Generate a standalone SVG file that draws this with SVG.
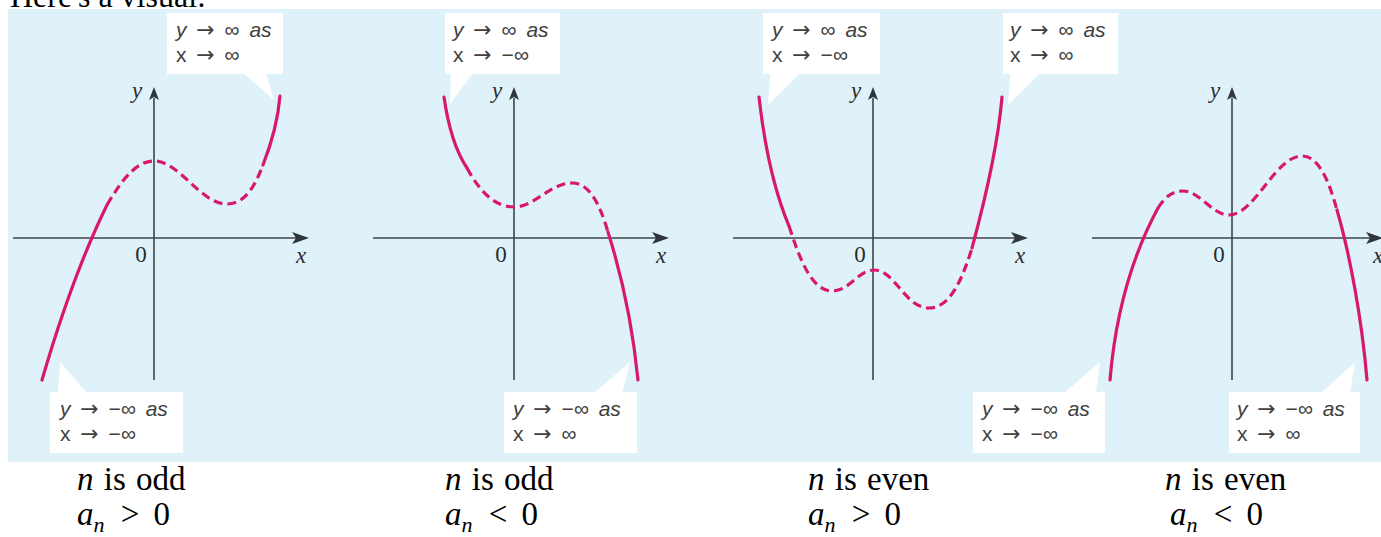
<svg xmlns="http://www.w3.org/2000/svg" width="1381" height="537" viewBox="0 0 1381 537">
<style>
.bg{fill:#dff2fa}
.ax{stroke:#3c4449;stroke-width:1.6;fill:none}
.ah{fill:#2f373c}
.cs{stroke:#d8186f;stroke-width:3.2;fill:none;stroke-linecap:round}
.cd{stroke:#d8186f;stroke-width:3.2;fill:none;stroke-dasharray:9 5}
.box{fill:#ffffff}
.ct{font-family:"Liberation Sans",Arial,sans-serif;font-size:21px;fill:#404040;word-spacing:4px}
.ar{font-family:"DejaVu Sans",sans-serif;font-size:22px}
.i{font-style:italic}
.lab{font-family:"Liberation Serif","Times New Roman",serif;font-size:23px;fill:#2b2b2b}
.cap{font-family:"Liberation Serif","Times New Roman",serif;font-size:33px;fill:#000;word-spacing:2px}
.eq{word-spacing:6px}
.sub{font-size:22px}
</style>
<text x="10" y="7" font-family="Liberation Serif, Times New Roman, serif" font-size="32" fill="#000">Here's a visual:</text>
<rect class="bg" x="8" y="9" width="1373" height="453"/>

<g id="axes">
<line class="ax" x1="13" y1="238" x2="296" y2="238"/><path class="ah" d="M309,238 L292,232 L296,238 L292,244 Z"/>
<line class="ax" x1="154" y1="98" x2="154" y2="380"/><path class="ah" d="M154,87 L149,100 L154,97 L159,100 Z"/>
<line class="ax" x1="373" y1="238" x2="656" y2="238"/><path class="ah" d="M669,238 L652,232 L656,238 L652,244 Z"/>
<line class="ax" x1="514" y1="98" x2="514" y2="380"/><path class="ah" d="M514,87 L509,100 L514,97 L519,100 Z"/>
<line class="ax" x1="733" y1="238" x2="1015" y2="238"/><path class="ah" d="M1028,238 L1011,232 L1015,238 L1011,244 Z"/>
<line class="ax" x1="873" y1="98" x2="873" y2="380"/><path class="ah" d="M873,87 L868,100 L873,97 L878,100 Z"/>
<line class="ax" x1="1092" y1="238" x2="1370" y2="238"/><path class="ah" d="M1383,238 L1366,232 L1370,238 L1366,244 Z"/>
<line class="ax" x1="1232" y1="98" x2="1232" y2="380"/><path class="ah" d="M1232,87 L1227,100 L1232,97 L1237,100 Z"/>
<text class="lab i" x="132" y="98">y</text><text class="lab" x="141" y="262" text-anchor="middle">0</text><text class="lab i" x="296" y="263">x</text>
<text class="lab i" x="492" y="98">y</text><text class="lab" x="501" y="262" text-anchor="middle">0</text><text class="lab i" x="656" y="263">x</text>
<text class="lab i" x="851" y="98">y</text><text class="lab" x="860" y="262" text-anchor="middle">0</text><text class="lab i" x="1015" y="263">x</text>
<text class="lab i" x="1210" y="98">y</text><text class="lab" x="1219" y="262" text-anchor="middle">0</text><text class="lab i" x="1373" y="263">x</text>
</g>

<g id="curves">
<path class="cs" d="M42,380 C58,325 80,260 107,205"/>
<path class="cd" d="M107,205 C124,176 138,161 154,161 C180,161 200,204 227,204 C245,204 255,186 263,165"/>
<path class="cs" d="M263,165 C272,142 278,120 280,96"/>

<path class="cs" d="M444,97 C448,125 455,150 467,168"/>
<path class="cd" d="M467,168 C480,192 495,207 514,207 C535,207 550,183 572,183 C590,183 600,205 608,232"/>
<path class="cs" d="M608,232 C620,270 632,320 638,380"/>

<path class="cs" d="M759,97 C765,150 776,195 789,226"/>
<path class="cd" d="M789,226 C800,260 812,291 832,291 C850,291 858,270 874,270 C895,270 905,308 929,308 C950,308 962,280 972,248"/>
<path class="cs" d="M972,248 C985,200 998,145 1002,97"/>

<path class="cs" d="M1110,380 C1115,320 1130,260 1158,208"/>
<path class="cd" d="M1158,208 C1165,197 1172,191 1183,191 C1200,191 1212,215 1229,215 C1255,215 1275,156 1302,156 C1320,156 1330,185 1337,210"/>
<path class="cs" d="M1337,210 C1350,255 1362,320 1367,380"/>
</g>

<g id="c1top">
<rect class="box" x="167" y="13" width="116" height="61"/><polygon class="box" points="243,73 266,73 274,100"/>
<text class="ct" x="176" y="37"><tspan class="i">y</tspan> <tspan class="ar">→</tspan> ∞ <tspan class="i">as</tspan></text>
<text class="ct" x="176" y="62">x <tspan class="ar">→</tspan> ∞</text>
</g>
<g id="c1bot">
<rect class="box" x="50" y="392" width="133" height="61"/><polygon class="box" points="58,393 87,393 60,362"/>
<text class="ct" x="60" y="416"><tspan class="i">y</tspan> <tspan class="ar">→</tspan> −∞ <tspan class="i">as</tspan></text>
<text class="ct" x="60" y="441">x <tspan class="ar">→</tspan> −∞</text>
</g>

<g id="c2top">
<rect class="box" x="445" y="13" width="115" height="61"/><polygon class="box" points="451,73 473,73 450,104"/>
<text class="ct" x="453" y="37"><tspan class="i">y</tspan> <tspan class="ar">→</tspan> ∞ <tspan class="i">as</tspan></text>
<text class="ct" x="453" y="62">x <tspan class="ar">→</tspan> −∞</text>
</g>
<g id="c2bot">
<rect class="box" x="504" y="392" width="133" height="61"/><polygon class="box" points="594,393 622,393 630,362"/>
<text class="ct" x="513" y="416"><tspan class="i">y</tspan> <tspan class="ar">→</tspan> −∞ <tspan class="i">as</tspan></text>
<text class="ct" x="513" y="441">x <tspan class="ar">→</tspan> ∞</text>
</g>

<g id="c3topleft">
<rect class="box" x="763" y="13" width="117" height="61"/><polygon class="box" points="770,73 800,73 768,105"/>
<text class="ct" x="772" y="37"><tspan class="i">y</tspan> <tspan class="ar">→</tspan> ∞ <tspan class="i">as</tspan></text>
<text class="ct" x="772" y="62">x <tspan class="ar">→</tspan> −∞</text>
</g>
<g id="c3topright">
<rect class="box" x="1003" y="13" width="115" height="61"/><polygon class="box" points="1010,73 1040,73 1008,105"/>
<text class="ct" x="1010" y="37"><tspan class="i">y</tspan> <tspan class="ar">→</tspan> ∞ <tspan class="i">as</tspan></text>
<text class="ct" x="1010" y="62">x <tspan class="ar">→</tspan> ∞</text>
</g>
<g id="c3bot">
<rect class="box" x="973" y="392" width="132" height="61"/><polygon class="box" points="1064,393 1096,393 1100,362"/>
<text class="ct" x="982" y="416"><tspan class="i">y</tspan> <tspan class="ar">→</tspan> −∞ <tspan class="i">as</tspan></text>
<text class="ct" x="982" y="441">x <tspan class="ar">→</tspan> −∞</text>
</g>
<g id="c4bot">
<rect class="box" x="1229" y="392" width="131" height="61"/><polygon class="box" points="1321,393 1350,393 1355,362"/>
<text class="ct" x="1237" y="416"><tspan class="i">y</tspan> <tspan class="ar">→</tspan> −∞ <tspan class="i">as</tspan></text>
<text class="ct" x="1237" y="441">x <tspan class="ar">→</tspan> ∞</text>
</g>

<g id="captions">
<text class="cap" x="77" y="490"><tspan class="i">n</tspan> is odd</text>
<text class="cap eq" x="77" y="525"><tspan class="i">a</tspan><tspan class="i sub" dy="7">n</tspan><tspan dy="-7" dx="2"> &gt; 0</tspan></text>
<text class="cap" x="445" y="490"><tspan class="i">n</tspan> is odd</text>
<text class="cap eq" x="445" y="525"><tspan class="i">a</tspan><tspan class="i sub" dy="7">n</tspan><tspan dy="-7" dx="2"> &lt; 0</tspan></text>
<text class="cap" x="808" y="490"><tspan class="i">n</tspan> is even</text>
<text class="cap eq" x="808" y="525"><tspan class="i">a</tspan><tspan class="i sub" dy="7">n</tspan><tspan dy="-7" dx="2"> &gt; 0</tspan></text>
<text class="cap" x="1165" y="490"><tspan class="i">n</tspan> is even</text>
<text class="cap eq" x="1170" y="525"><tspan class="i">a</tspan><tspan class="i sub" dy="7">n</tspan><tspan dy="-7" dx="2"> &lt; 0</tspan></text>
</g>
</svg>
